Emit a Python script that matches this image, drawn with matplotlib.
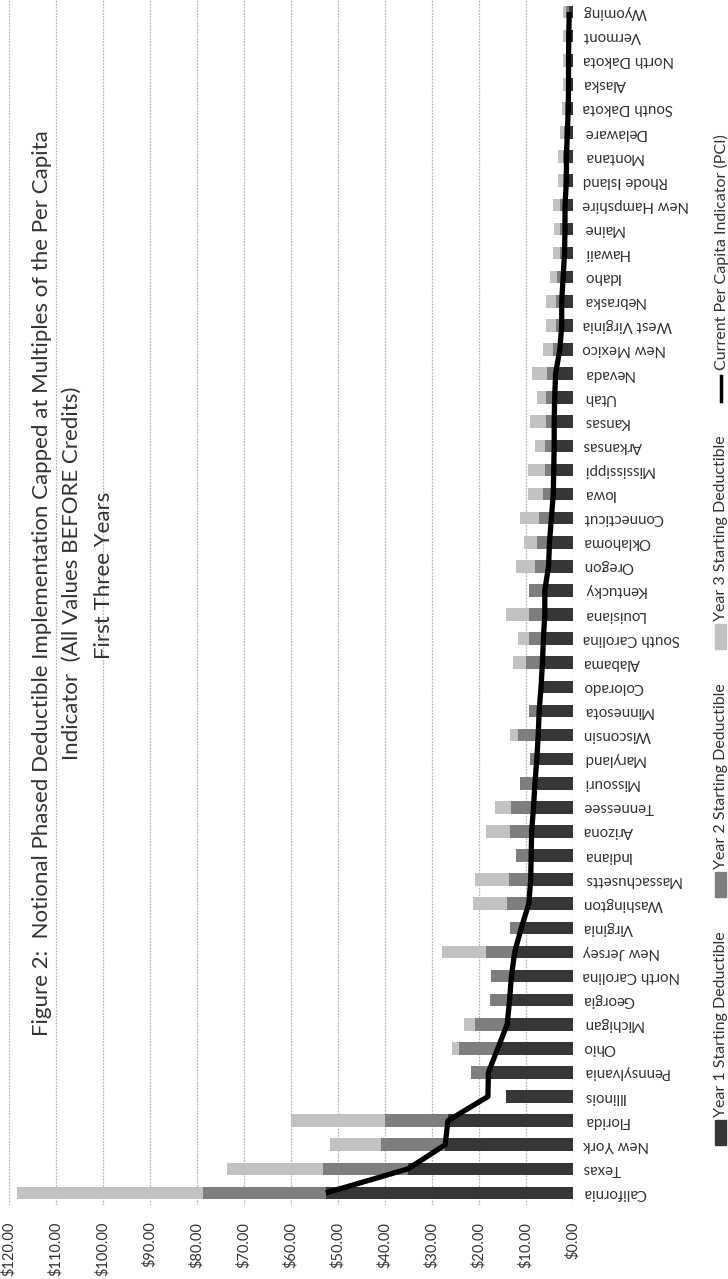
import matplotlib
matplotlib.use("Agg")
import matplotlib.pyplot as plt
from matplotlib.patches import Rectangle
from matplotlib.lines import Line2D
import numpy as np

# states in population order (California at the bottom)
states = ["California", "Texas", "New York", "Florida", "Illinois", "Pennsylvania", "Ohio",
          "Michigan", "Georgia", "North Carolina", "New Jersey", "Virginia", "Washington",
          "Massachusetts", "Indiana", "Arizona", "Tennessee", "Missouri", "Maryland",
          "Wisconsin", "Minnesota", "Colorado", "Alabama", "South Carolina", "Louisiana",
          "Kentucky", "Oregon", "Oklahoma", "Connecticut", "Iowa", "Mississippi", "Arkansas",
          "Kansas", "Utah", "Nevada", "New Mexico", "West Virginia", "Nebraska", "Idaho",
          "Hawaii", "Maine", "New Hampshire", "Rhode Island", "Montana", "Delaware",
          "South Dakota", "Alaska", "North Dakota", "Vermont", "Wyoming"]

year1 = [52.6, 35.1, 27.2, 26.6, 14.3, 17.8, 16.0, 14.0, 13.5, 13.1, 12.4, 11.0, 9.4,
         9.0, 8.9, 8.8, 8.4, 8.1, 7.7, 7.4, 7.2, 6.3, 6.5, 6.3, 6.0, 6.0, 5.1, 5.0, 4.6,
         4.2, 4.2, 4.1, 4.0, 3.9, 3.7, 2.8, 2.4, 2.4, 2.1, 1.8, 1.7, 1.8, 1.4, 1.4, 1.2,
         1.0, 0.95, 0.95, 0.95, 0.9]
year2 = [78.7, 53.1, 40.8, 39.9, 14.3, 21.8, 24.3, 20.8, 17.6, 17.5, 18.6, 13.5, 14.0,
         13.7, 12.1, 13.4, 13.2, 11.3, 9.1, 11.8, 9.3, 6.3, 9.9, 9.4, 9.4, 9.3, 8.0, 7.7, 7.3,
         6.4, 6.0, 6.0, 5.8, 5.7, 5.5, 4.2, 3.7, 3.7, 3.3, 2.8, 2.7, 2.8, 2.1, 2.1, 1.9,
         1.6, 1.45, 1.45, 1.45, 1.4]
year3 = [118.2, 73.6, 51.6, 59.9, 14.3, 21.8, 25.7, 23.2, 17.6, 17.5, 27.9, 13.5, 21.3,
         20.8, 12.1, 18.6, 16.6, 11.3, 9.1, 13.4, 9.3, 6.3, 12.8, 11.6, 14.3, 9.3, 12.2, 10.5,
         11.3, 9.6, 9.5, 8.0, 9.1, 7.7, 8.7, 6.4, 5.8, 5.7, 5.0, 4.2, 4.1, 4.2, 3.2, 3.2, 2.8,
         2.4, 2.2, 2.2, 2.2, 2.1]
pci = [52.6, 35.1, 27.2, 26.6, 18.1, 18.0, 16.0, 14.0, 13.5, 13.1, 12.4, 11.0, 9.4,
       9.0, 8.9, 8.8, 8.4, 8.1, 7.7, 7.4, 7.2, 6.8, 6.5, 6.3, 6.0, 6.0, 5.2, 5.0, 4.6,
       4.2, 4.1, 4.0, 4.0, 3.9, 3.7, 2.8, 2.4, 2.4, 2.1, 1.8, 1.7, 1.7, 1.4, 1.4, 1.2,
       1.0, 0.95, 0.95, 0.9, 0.8]

x_ticks = np.arange(0, 121, 10)
title_lines = ["Figure 2:  Notional Phased Deductible Implementation Capped at Multiples of the Per Capita",
               "Indicator  (All Values BEFORE Credits)",
               "First Three Years"]
legend_labels = ["Year 1 Starting Deductible", "Year 2 Starting Deductible",
                 "Year 3 Starting Deductible", "Current Per Capita Indicator (PCI)"]

c1, c2, c3 = "#363636", "#7e7e7e", "#c2c2c2"
txt = "#333333"
plt.rcParams['font.family'] = ['Lato', 'DejaVu Sans']

W, H = 728, 1279
fig = plt.figure(figsize=(W / 100, H / 100), dpi=100)
fig.patch.set_facecolor("white")

# the chart is drawn turned by a quarter: values run right to left, states bottom to top
ax = fig.add_axes([9 / W, 1 - 1205 / H, (573 - 9) / W, 1205 / H])
idx = np.arange(len(states))
bh = 0.52
ax.barh(idx, year3, height=bh, color=c3, zorder=2)
ax.barh(idx, year2, height=bh, color=c2, zorder=3)
ax.barh(idx, year1, height=bh, color=c1, zorder=4)
ax.plot(pci, idx, color="black", lw=3.8, zorder=5, solid_capstyle="butt")

ax.set_xlim(120, 0)
ax.set_ylim(-0.5, len(states) - 0.5)
ax.set_xticks(x_ticks)
ax.set_xticklabels(["${:.2f}".format(v) for v in x_ticks], rotation=90, fontsize=10.5, color=txt)
ax.yaxis.tick_right()
ax.set_yticks(idx)
ax.set_yticklabels(states, rotation=180, fontsize=10.8, color=txt, ha="left", va="center")
ax.tick_params(axis="x", length=0, pad=12)
ax.tick_params(axis="y", length=0, pad=7)
ax.xaxis.grid(True, color="#b5b5b5", lw=0.9, linestyle=(0, (1.5, 1)), zorder=0)
for s in ax.spines.values():
    s.set_visible(False)

# title, three rotated lines
for xc, yc, line in zip([42, 72, 104], [583, 573, 575], title_lines):
    fig.text(xc / W, 1 - yc / H, line, rotation=90, ha="center", va="center",
             fontsize=16, color="#333333")

# legend, drawn by hand so it can run vertically
key_bottoms = [1145, 897, 649]
for yb, col, lab in zip(key_bottoms, [c1, c2, c3], legend_labels[:3]):
    fig.patches.append(Rectangle((715 / W, 1 - yb / H), 11 / W, 25 / H,
                                 transform=fig.transFigure, color=col))
    fig.text(721 / W, 1 - (yb - 28) / H, lab, rotation=90, ha="center", va="bottom",
             fontsize=11.5, color=txt)
fig.lines.append(Line2D([721 / W, 721 / W], [1 - 401 / H, 1 - 376 / H],
                        transform=fig.transFigure, color="black", lw=2.5))
fig.text(721 / W, 1 - 370 / H, legend_labels[3], rotation=90, ha="center", va="bottom",
         fontsize=11.5, color=txt)

fig.savefig("out.png", dpi=100, facecolor="white")
